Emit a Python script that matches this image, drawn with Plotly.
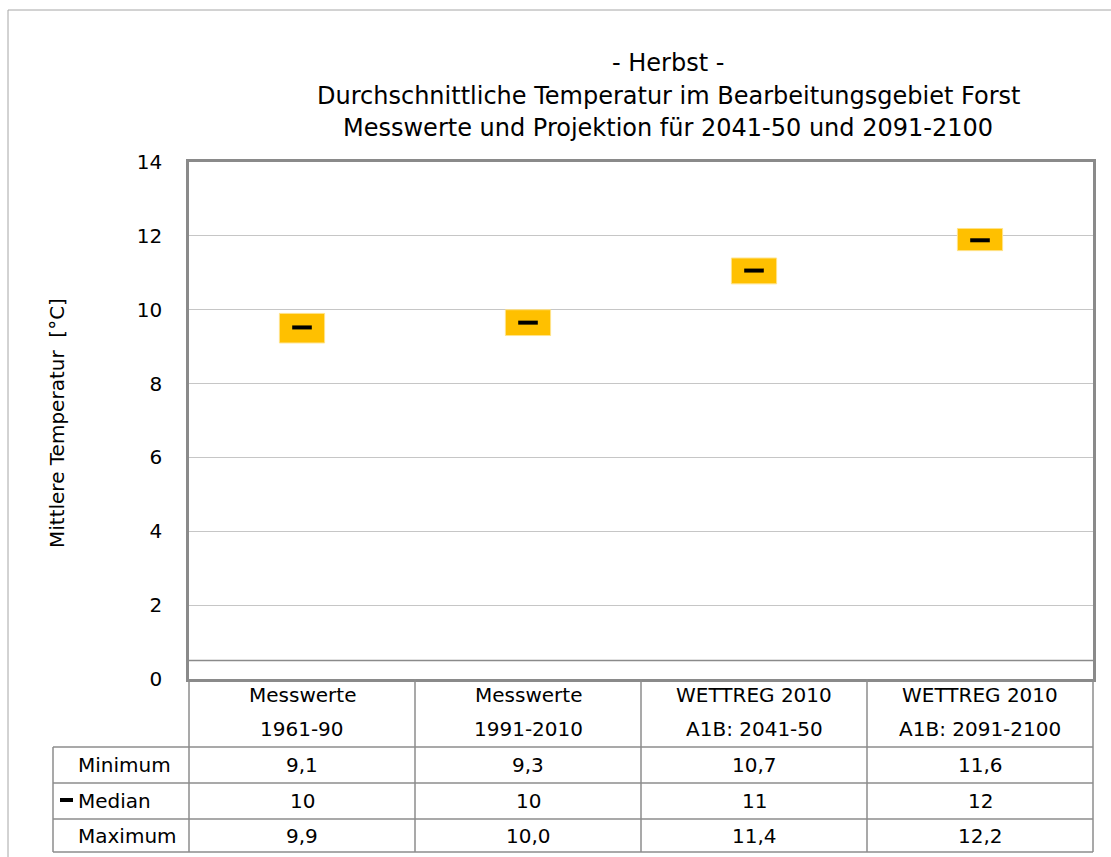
import plotly.graph_objects as go

# ---- data ----
cat_line1 = ["Messwerte", "Messwerte", "WETTREG 2010", "WETTREG 2010"]
cat_line2 = ["1961-90", "1991-2010", "A1B: 2041-50", "A1B: 2091-2100"]
minimum = [9.1, 9.3, 10.7, 11.6]
median = [9.52, 9.65, 11.06, 11.88]
maximum = [9.9, 10.0, 11.4, 12.2]
row_labels = ["Minimum", "Median", "Maximum"]
title_lines = ["- Herbst -",
               "Durchschnittliche Temperatur im Bearbeitungsgebiet Forst",
               "Messwerte und Projektion für 2041-50 und 2091-2100"]
y_title = "Mittlere Temperatur  [°C]"
y_ticks = [0, 2, 4, 6, 8, 10, 12, 14]

W, H = 1111, 857
L, R, T, B = 189, 1093, 162, 679
PW, PH = R - L, B - T
FONT = "DejaVu Sans, Liberation Sans, Arial, sans-serif"
GRID = "#c6c6c6"
FRAME = "#8a8a8a"
TLINE = "#8c8c8c"
TXT = dict(size=20, family=FONT, color="black")


def px(x):
    return (x - L) / PW


def py(y):
    return (B - y) / PH


xs = list(range(len(minimum)))
fig = go.Figure()
fig.add_trace(go.Bar(
    x=xs, base=minimum, y=[mx - mn for mx, mn in zip(maximum, minimum)],
    width=0.2, marker=dict(color="#FFC000", line=dict(color="#FFE38A", width=1)),
    showlegend=False, hoverinfo="skip"))
fig.add_trace(go.Scatter(
    x=xs, y=median, mode="markers",
    marker=dict(symbol="line-ew", size=14, line=dict(color="black", width=4)),
    showlegend=False))

shapes = []
annotations = []

# outer chart border
shapes.append(dict(type="rect", xref="paper", yref="paper",
                   x0=px(8), x1=px(1112), y0=py(858), y1=py(10),
                   line=dict(color="#a6a6a6", width=1), layer="below"))
# line at 0.5 within plot
shapes.append(dict(type="line", xref="x domain", yref="y", x0=0, x1=1, y0=0.5, y1=0.5,
                   line=dict(color=FRAME, width=1.5)))

# table geometry
col_x = [189, 415, 641, 867, 1093]
row_y = [679, 747, 783, 819, 852]
for yy in row_y[1:]:
    shapes.append(dict(type="line", xref="paper", yref="paper", x0=px(53), x1=px(1093),
                       y0=py(yy), y1=py(yy), line=dict(color=TLINE, width=1.5)))
for xx in col_x:
    shapes.append(dict(type="line", xref="paper", yref="paper", x0=px(xx), x1=px(xx),
                       y0=py(679), y1=py(852), line=dict(color=TLINE, width=1.5)))
shapes.append(dict(type="line", xref="paper", yref="paper", x0=px(53), x1=px(53),
                   y0=py(747), y1=py(852), line=dict(color=TLINE, width=1.5)))

# header labels
for i in range(len(cat_line1)):
    cx = px((col_x[i] + col_x[i + 1]) / 2)
    annotations.append(dict(x=cx, y=py(695), xref="paper", yref="paper", text=cat_line1[i],
                            xanchor="center", yanchor="middle", showarrow=False, font=TXT))
    annotations.append(dict(x=cx, y=py(729), xref="paper", yref="paper", text=cat_line2[i],
                            xanchor="center", yanchor="middle", showarrow=False, font=TXT))


def fmt1(v):
    return f"{v:.1f}".replace(".", ",")


rows = [[fmt1(v) for v in minimum], [f"{round(v):d}" for v in median], [fmt1(v) for v in maximum]]
for r in range(3):
    cy = py((row_y[r + 1] + row_y[r + 2]) / 2)
    annotations.append(dict(x=px(76), y=cy, xref="paper", yref="paper", text=row_labels[r],
                            xanchor="left", yanchor="middle", showarrow=False, font=TXT))
    for i in range(4):
        cx = px((col_x[i] + col_x[i + 1]) / 2)
        annotations.append(dict(x=cx, y=cy, xref="paper", yref="paper", text=rows[r][i],
                                xanchor="center", yanchor="middle", showarrow=False, font=TXT))
# legend key for median
shapes.append(dict(type="line", xref="paper", yref="paper", x0=px(60), x1=px(73),
                   y0=py(800), y1=py(800), line=dict(color="black", width=4)))

# title
for line, yy in zip(title_lines, [63, 96, 128]):
    annotations.append(dict(x=px(668), y=py(yy), xref="paper", yref="paper", text=line,
                            xanchor="center", yanchor="middle", showarrow=False,
                            font=dict(size=24, family=FONT, color="black")))
# y title
annotations.append(dict(x=px(57), y=py(423), xref="paper", yref="paper", text=y_title,
                        textangle=-90, xanchor="center", yanchor="middle", showarrow=False,
                        font=TXT))

fig.update_layout(
    width=W, height=H,
    margin=dict(l=L, r=W - R, t=T, b=H - B),
    paper_bgcolor="white", plot_bgcolor="white",
    font=dict(family=FONT, size=20, color="black"),
    shapes=shapes, annotations=annotations,
    xaxis=dict(range=[-0.5, 3.5], showticklabels=False, showgrid=False, zeroline=False,
               showline=True, mirror=True, linecolor=FRAME, linewidth=2.5, ticks=""),
    yaxis=dict(range=[0, 14], tickvals=y_ticks, showgrid=True, gridcolor=GRID, gridwidth=1,
               zeroline=False, showline=True, mirror=True, linecolor=FRAME, linewidth=2.5,
               ticks="", ticklabelstandoff=20,
               tickfont=dict(size=20, family=FONT, color="black")),
)

fig.write_html("out.html", config={"displayModeBar": False},
               post_script="document.body.style.margin='0';document.body.style.overflow='hidden';")
